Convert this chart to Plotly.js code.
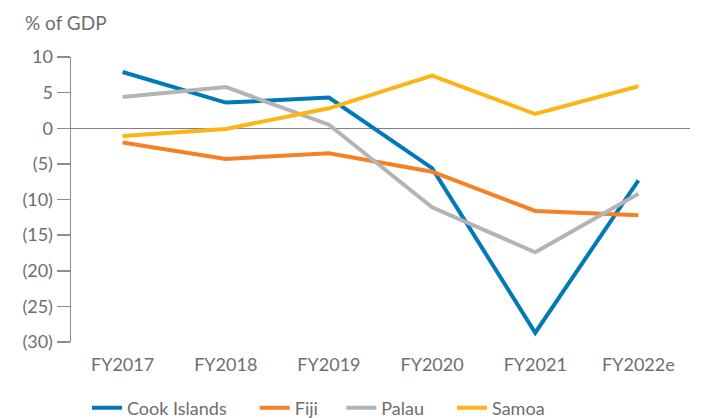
<!DOCTYPE html>
<html>
<head>
<meta charset="utf-8">
<script src="https://cdn.plot.ly/plotly-3.0.1.min.js"></script>
<style>html,body{margin:0;padding:0;background:#fff;}#chart{width:707px;height:418px;}</style>
</head>
<body>
<div id="chart"></div>
<script>
var years = ["FY2017", "FY2018", "FY2019", "FY2020", "FY2021", "FY2022e"];
var cookIslands = [7.9, 3.6, 4.3, -5.6, -28.7, -7.3];
var fiji = [-2.0, -4.3, -3.5, -6.1, -11.6, -12.2];
var palau = [4.4, 5.8, 0.5, -11.1, -17.4, -9.2];
var samoa = [-1.1, -0.1, 2.8, 7.4, 2.0, 5.9];
var yTickVals = [10, 5, 0, -5, -10, -15, -20, -25, -30];
var yTickText = ["10", "5", "0", "(5)", "(10)", "(15)", "(20)", "(25)", "(30)"];
var seriesNames = ["Cook Islands", "Fiji", "Palau", "Samoa"];

var FONT = "Lato, 'Open Sans', sans-serif";
var GREY = "#6d6e71";

function line(name, y, color, pad) {
  return {x: years, y: y, name: name + "\u00a0".repeat(pad), type: "scatter", mode: "lines",
          line: {color: color, width: 4}};
}

var data = [
  line(seriesNames[0], cookIslands, "#0079b8", 5),
  line(seriesNames[1], fiji, "#f58025", 4),
  line(seriesNames[2], palau, "#b3b4b6", 5),
  line(seriesNames[3], samoa, "#fdb515", 0)
];

var layout = {
  width: 707, height: 418,
  margin: {l: 71, r: 17, t: 57, b: 76},
  paper_bgcolor: "#fff", plot_bgcolor: "#fff",
  font: {family: FONT, size: 18, color: GREY},
  title: {text: "% of GDP", x: 25/707, xanchor: "left", xref: "container",
          y: 1 - 23/418, yanchor: "middle", yref: "container",
          font: {family: FONT, size: 19, color: GREY}},
  showlegend: true,
  legend: {orientation: "h", x: 87/707, xanchor: "left", xref: "container",
           y: 1 - 408/418, yanchor: "middle", yref: "container",
           font: {family: FONT, size: 18, color: GREY}, itemwidth: 30,
           traceorder: "normal"},
  xaxis: {type: "category", range: [-0.5, 5.5], showgrid: false, zeroline: false,
          showline: false, ticks: "", ticklabelstandoff: 10,
          tickfont: {family: FONT, size: 18, color: GREY}, fixedrange: true},
  yaxis: {range: [-30, 10], tickvals: yTickVals, ticktext: yTickText,
          showgrid: false, zeroline: true, zerolinecolor: "#808080", zerolinewidth: 1,
          showline: true, linecolor: "#8c8c8c", linewidth: 1.5,
          ticks: "outside", ticklen: 13, tickcolor: "#8c8c8c", tickwidth: 1.5,
          tickfont: {family: FONT, size: 18, color: GREY}, fixedrange: true}
};

Plotly.newPlot("chart", data, layout, {displayModeBar: false, staticPlot: true});
</script>
</body>
</html>
